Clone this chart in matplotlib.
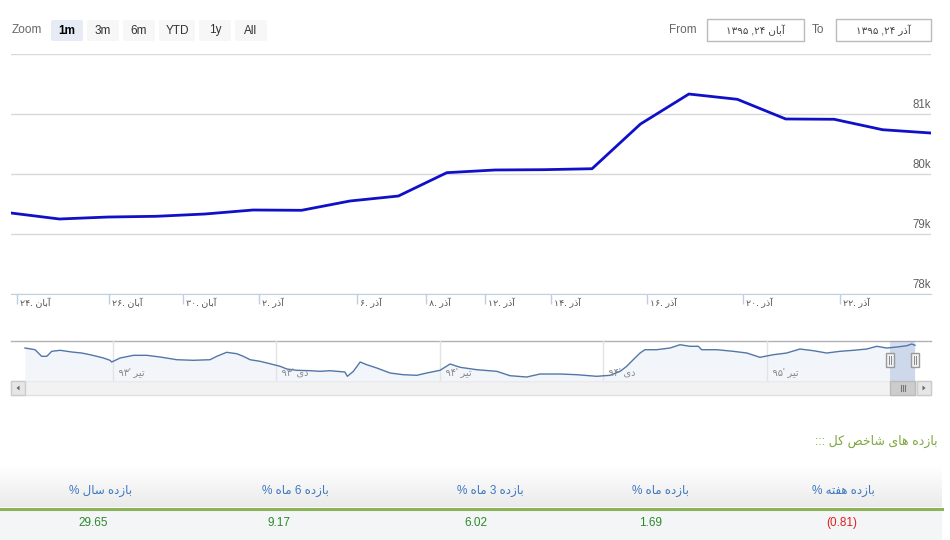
import matplotlib
matplotlib.use('Agg')
import matplotlib.pyplot as plt
from matplotlib.patches import Rectangle, FancyBboxPatch, Polygon
import matplotlib.transforms as mtransforms
import numpy as np

plt.rcParams['font.family'] = ['Liberation Sans', 'DejaVu Sans']

# ---------------- data ----------------
main_values = [79350, 79250, 79283, 79295, 79333, 79400, 79395, 79550, 79633, 80022,
               80067, 80072, 80088, 80833, 81333, 81245, 80917, 80912, 80738, 80683]
tick_positions = [0.12, 2.02, 3.55, 5.12, 7.15, 8.57, 9.79, 11.15, 13.14, 15.12, 17.12]
tick_months = ['آبان', 'آبان', 'آبان', 'آذر', 'آذر', 'آذر', 'آذر', 'آذر', 'آذر', 'آذر', 'آذر']
tick_days = ['۲۴', '۲۶', '۳۰', '۲', '۶', '۸', '۱۲', '۱۴', '۱۶', '۲۰', '۲۲']
y_ticks = [78000, 79000, 80000, 81000, 82000]
y_tick_labels = ['78k', '79k', '80k', '81k', '']

# navigator: months relative to Tir 1393
nav_months = [-3.22, -2.85, -2.61, -2.42, -2.24, -1.93, -1.50, -1.14, -0.83, -0.59, -0.34, -0.10,
              -0.04, 0.27, 0.76, 1.25, 1.74, 2.35, 2.96, 3.57, 3.82, 4.18, 4.55, 4.79, 5.04,
              5.41, 5.77, 6.14, 6.39, 6.75, 7.24, 7.61, 7.97, 8.52, 8.61, 8.83, 9.08, 9.32,
              9.69, 10.18, 10.66, 11.16, 11.52, 12.01, 12.38, 12.75, 13.36, 14.09, 14.58,
              15.19, 15.68, 16.42, 17.03, 17.76, 18.25, 18.62, 18.86, 19.10, 19.35, 19.53,
              19.96, 20.45, 20.82, 21.18, 21.49, 21.61, 22.17, 22.77, 23.27, 23.75, 24.24,
              24.73, 25.22, 25.71, 26.20, 26.69, 27.18, 27.67, 28.04, 28.40, 28.77, 29.14,
              29.32, 29.44]
nav_values = [79060, 78030, 74040, 74040, 77060, 77670, 76640, 76030, 75000, 74040, 73010, 71620,
              70590, 73010, 74640, 74640, 73610, 71980, 71620, 71980, 74040, 76460, 75610, 74040,
              71980, 71010, 69560, 67990, 66350, 65570, 65330, 64960, 65330, 64540, 61940, 64960,
              70590, 68960, 66960, 63930, 62910, 62540, 63930, 65570, 69380, 67380, 65930, 64960,
              62300, 61510, 63330, 63330, 62910, 61940, 62540, 64960, 67990, 71980, 76030, 78030,
              78030, 79060, 81050, 80090, 80090, 78030, 78030, 77060, 76030, 73430, 75000, 76030,
              78450, 77430, 76030, 77060, 77670, 78450, 80090, 79060, 79660, 80450, 81480, 80692]
nav_label_months = [0, 6, 12, 18, 24]
nav_labels = ["تیر '۹۳", "دی '۹۳", "تیر '۹۴", "دی '۹۴", "تیر '۹۵"]

zoom_buttons = ['1m', '3m', '6m', 'YTD', '1y', 'All']
selected_button = '1m'
range_from = 'آبان ۲۴, ۱۳۹۵'
range_to = 'آذر ۲۴, ۱۳۹۵'

table_title = 'بازده های شاخص کل :::'
table_headers = ['بازده سال %', 'بازده 6 ماه %', 'بازده 3 ماه %', 'بازده ماه %', 'بازده هفته %']
table_values = [29.65, 9.17, 6.02, 1.69, -0.81]

# ---------------- Persian shaping (presentation forms) ----------------
FORMS = {
    '\u0627': ('\uFE8D', '\uFE8E', None, None),
    '\u0622': ('\uFE81', '\uFE82', None, None),
    '\u0628': ('\uFE8F', '\uFE90', '\uFE91', '\uFE92'),
    '\u062A': ('\uFE95', '\uFE96', '\uFE97', '\uFE98'),
    '\u062E': ('\uFEA5', '\uFEA6', '\uFEA7', '\uFEA8'),
    '\u062F': ('\uFEA9', '\uFEAA', None, None),
    '\u0630': ('\uFEAB', '\uFEAC', None, None),
    '\u0631': ('\uFEAD', '\uFEAE', None, None),
    '\u0632': ('\uFEAF', '\uFEB0', None, None),
    '\u0633': ('\uFEB1', '\uFEB2', '\uFEB3', '\uFEB4'),
    '\u0634': ('\uFEB5', '\uFEB6', '\uFEB7', '\uFEB8'),
    '\u0635': ('\uFEB9', '\uFEBA', '\uFEBB', '\uFEBC'),
    '\u0641': ('\uFED1', '\uFED2', '\uFED3', '\uFED4'),
    '\u0644': ('\uFEDD', '\uFEDE', '\uFEDF', '\uFEE0'),
    '\u0645': ('\uFEE1', '\uFEE2', '\uFEE3', '\uFEE4'),
    '\u0646': ('\uFEE5', '\uFEE6', '\uFEE7', '\uFEE8'),
    '\u0647': ('\uFEE9', '\uFEEA', '\uFEEB', '\uFEEC'),
    '\u06A9': ('\uFB8E', '\uFB8F', '\uFB90', '\uFB91'),
    '\u06CC': ('\uFBFC', '\uFBFD', '\uFBFE', '\uFBFF'),
}


def shape(s):
    out = []
    for i, ch in enumerate(s):
        f = FORMS.get(ch)
        if f is None:
            out.append(ch)
            continue
        prev = s[i - 1] if i > 0 else None
        nxt = s[i + 1] if i < len(s) - 1 else None
        jp = prev in FORMS and FORMS[prev][2] is not None
        jn = f[2] is not None and nxt in FORMS
        if jp and jn:
            out.append(f[3])
        elif jp:
            out.append(f[1])
        elif jn:
            out.append(f[2])
        else:
            out.append(f[0])
    return ''.join(out)


def rtl(s):
    shaped = shape(s)
    tokens = []
    for ch in shaped:
        d = ch.isdigit()
        if tokens and d and tokens[-1][1]:
            tokens[-1][0] += ch
        else:
            tokens.append([ch, d])
    return ''.join(t[0] for t in reversed(tokens))


# ---------------- figure ----------------
W, H = 950, 540
fig = plt.figure(figsize=(W / 100, H / 100), dpi=100)
fig.patch.set_facecolor('white')

bg = fig.add_axes([0, 0, 1, 1], zorder=0)
bg.set_xlim(0, W)
bg.set_ylim(H, 0)
bg.axis('off')

top = fig.add_axes([0, 0, 1, 1], zorder=5)
top.patch.set_alpha(0)
top.set_xlim(0, W)
top.set_ylim(H, 0)
top.axis('off')

# toolbar
bg.text(12, 30, 'Zoom', fontsize=8.5, color='#666666', ha='left', va='center')
btn_left = [51, 87, 123, 159, 199, 235]
btn_w = [32, 32, 32, 36, 32, 32]
for lbl, bx, bw in zip(zoom_buttons, btn_left, btn_w):
    sel = lbl == selected_button
    bg.add_patch(FancyBboxPatch((bx, 20), bw, 21, boxstyle='round,pad=0,rounding_size=2',
                                fc='#e6ebf5' if sel else '#f7f7f7', ec='none'))
    bg.text(bx + bw / 2, 30.5, lbl, fontsize=8.5, ha='center', va='center',
            color='#000000' if sel else '#333333', fontweight='bold' if sel else 'normal')

bg.text(697, 30, 'From', fontsize=8.5, color='#666666', ha='right', va='center')
bg.add_patch(Rectangle((707, 19), 97, 22, fc='white', ec='#bbbbbb', lw=1))
bg.text(755.5, 30, rtl(range_from), fontsize=7.5, color='#444444', ha='center', va='center')
bg.text(812, 30, 'To', fontsize=8.5, color='#666666', ha='left', va='center')
bg.add_patch(Rectangle((836, 19), 95, 22, fc='white', ec='#bbbbbb', lw=1))
bg.text(883.5, 30, rtl(range_to), fontsize=7.5, color='#444444', ha='center', va='center')

# ---------------- main chart ----------------
ax = fig.add_axes([11 / W, 1 - 294 / H, 920 / W, 240 / H], zorder=2)
ax.patch.set_alpha(0)
xs = np.arange(len(main_values))
ax.plot(xs, main_values, color='#1010c8', lw=2, solid_joinstyle='round', zorder=3)
ax.set_xlim(0, len(main_values) - 1)
ax.set_ylim(y_ticks[0], y_ticks[-1])
ax.set_yticks(y_ticks)
ax.yaxis.grid(True, color='#d8d8d8', lw=1)
ax.tick_params(axis='y', length=0, labelleft=False)
for sp in ['left', 'right', 'top']:
    ax.spines[sp].set_visible(False)
ax.spines['bottom'].set_color('#c0d0e0')
ax.set_xticks(tick_positions)
ax.tick_params(axis='x', direction='out', length=7, width=1, color='#c0d0e0', labelbottom=False)
ytr = mtransforms.offset_copy(ax.get_yaxis_transform(), fig=fig, x=0, y=3, units='dots')
for v, lbl in zip(y_ticks, y_tick_labels):
    if lbl:
        ax.text(1.0, v, lbl, transform=ytr, ha='right', va='bottom', fontsize=8.3, color='#606060')
xtr = mtransforms.offset_copy(ax.get_xaxis_transform(), fig=fig, x=3, y=-4, units='dots')
for p, m, d in zip(tick_positions, tick_months, tick_days):
    ax.text(p, 0, d + '. ' + rtl(m), transform=xtr, ha='left', va='top', fontsize=6.8, color='#555555')

# ---------------- navigator ----------------
nav = fig.add_axes([11 / W, 1 - 381 / H, 920 / W, 40 / H], zorder=2)
nav.patch.set_alpha(0)
scale = (nav_months[-1] - nav_months[0]) / (915 - 25)
nav.set_xlim(nav_months[0] - 14 * scale, nav_months[-1] + 16 * scale)
nav.set_ylim(59100, 83300)
nav.axis('off')
nav.fill_between(nav_months, nav_values, 59100, color='#f2f5fa', lw=0, zorder=1)
nav.plot(nav_months, nav_values, color='#5276a8', lw=1, zorder=3)
for m, lbl in zip(nav_label_months, nav_labels):
    nav.axvline(m, color='#e3e3e3', lw=1, zorder=2)
    nav.text(m, 0.22, '  ' + rtl(lbl), transform=nav.get_xaxis_transform(), ha='left', va='center',
             fontsize=7, color='#888888', zorder=4)
sel_start = nav_months[-1] - 0.9
sel_end = nav_months[-1]
nav.axvspan(sel_start, sel_end, color=(102 / 255, 133 / 255, 194 / 255), alpha=0.25, lw=0, zorder=2)
bg.plot([11, 931], [341, 341], color='#b2b1b6', lw=1)

px0 = nav.transData.transform((sel_start, 0))[0]
px1 = nav.transData.transform((sel_end, 0))[0]

# scrollbar
bg.add_patch(Rectangle((11, 381), 920, 14, fc='#f2f2f2', ec='#e0e0e0', lw=1))
bg.add_patch(Rectangle((11, 381), 14, 14, fc='#e6e6e6', ec='#cccccc', lw=1))
bg.add_patch(Rectangle((917, 381), 14, 14, fc='#e6e6e6', ec='#cccccc', lw=1))
bg.add_patch(Polygon([[16.5, 388], [19.5, 385.5], [19.5, 390.5]], closed=True, fc='#666666', ec='none'))
bg.add_patch(Polygon([[925.5, 388], [922.5, 385.5], [922.5, 390.5]], closed=True, fc='#666666', ec='none'))
top.add_patch(Rectangle((px0, 381), px1 - px0, 14, fc='#cccccc', ec='#bbbbbb', lw=1, zorder=3))
cx = (px0 + px1) / 2
for dx in (-2, 0, 2):
    top.plot([cx + dx, cx + dx], [385, 391], color='#777777', lw=0.8, zorder=4)

# handles
for hx in (px0, px1):
    top.add_patch(Rectangle((hx - 4, 353), 8, 14, fc='#f2f2f2', ec='#999999', lw=1, zorder=5))
    for dx in (-1, 1):
        top.plot([hx + dx, hx + dx], [356, 364], color='#888888', lw=0.7, zorder=6)

# ---------------- returns table ----------------
bg.text(938, 441, rtl(table_title), fontsize=9, color='#7fa83f', ha='right', va='center')
grad = np.linspace(1.0, 0.92, 60)
img = np.stack([grad, grad, grad], axis=-1).reshape(60, 1, 3)
bg.imshow(img, extent=[0, 942, 507, 466], aspect='auto', zorder=0.5, interpolation='bilinear')
bg.set_xlim(0, W)
bg.set_ylim(H, 0)
bg.add_patch(Rectangle((0, 510), 942, 30, fc='#f4f5f7', ec='none', zorder=0.6))
bg.plot([0, 942], [508.5, 508.5], color='#8db35a', lw=2.2, zorder=1)

header_x = [101, 295, 490, 661, 843]
value_x = [93, 279, 476, 651, 842]
for hx, h in zip(header_x, table_headers):
    bg.text(hx, 491, rtl(h), fontsize=8.5, color='#3d78c0', ha='center', va='center', zorder=2)
for vx, v in zip(value_x, table_values):
    if v < 0:
        s, c = '({:.2f})'.format(-v), '#e0201c'
    else:
        s, c = '{:.2f}'.format(v), '#2b8a2b'
    bg.text(vx, 523, s, fontsize=8.5, color=c, ha='center', va='center', zorder=2)

fig.savefig('out.png', dpi=100, facecolor='white')
